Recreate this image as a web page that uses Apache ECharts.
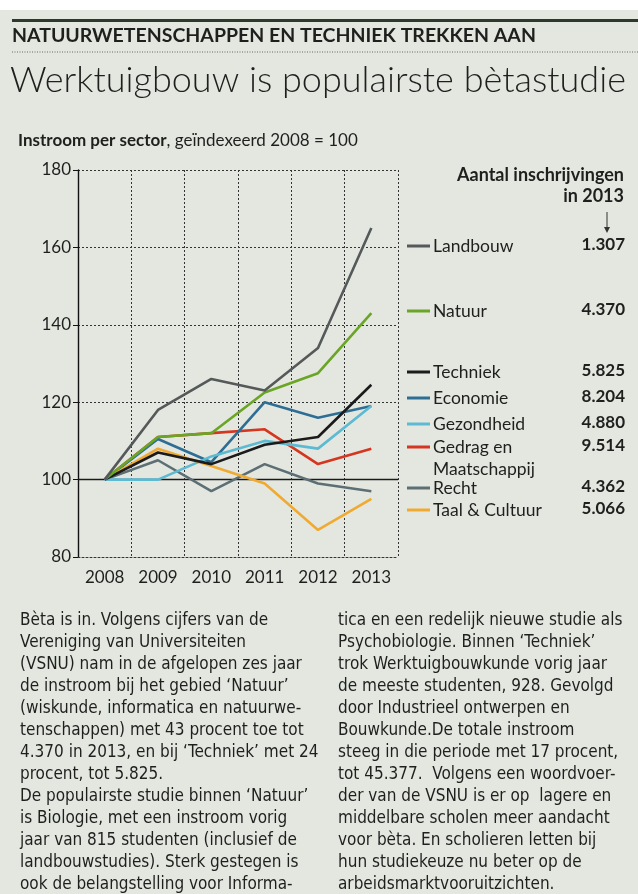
<!DOCTYPE html>
<html>
<head>
<meta charset="utf-8">
<script src="https://cdn.jsdelivr.net/npm/echarts@6/dist/echarts.min.js"></script>
<style>
  html, body { margin: 0; padding: 0; background: #fff; }
  #chart { width: 638px; height: 894px; }
</style>
</head>
<body>
<div id="chart"></div>
<script>
// chart values
const years = ['2008', '2009', '2010', '2011', '2012', '2013'];
const landbouw = [100, 118, 126, 123, 134, 165];
const natuur = [100, 111, 112, 122.5, 127.5, 143];
const techniek = [100, 107, 104, 109, 111, 124.5];
const economie = [100, 110.5, 104.5, 120, 116, 119];
const gezondheid = [100, 100, 106, 110, 108, 119];
const gedrag = [100, 111, 112, 113, 104, 108];
const recht = [100, 105, 97, 104, 99, 97];
const taal = [100, 108, 103.5, 99, 87, 95];

const sectorNames = ['Landbouw', 'Natuur', 'Techniek', 'Economie', 'Gezondheid', 'Gedrag en\nMaatschappij', 'Recht', 'Taal & Cultuur'];
const inschrijvingen2013 = ['1.307', '4.370', '5.825', '8.204', '4.880', '9.514', '4.362', '5.066'];
const yTicks = [80, 100, 120, 140, 160, 180];

const bodyLeft = [
  'Bèta is in. Volgens cijfers van de',
  'Vereniging van Universiteiten',
  '(VSNU) nam in de afgelopen zes jaar',
  'de instroom bij het gebied ‘Natuur’',
  '(wiskunde, informatica en natuurwe-',
  'tenschappen) met 43 procent toe tot',
  '4.370 in 2013, en bij ‘Techniek’ met 24',
  'procent, tot 5.825.',
  'De populairste studie binnen ‘Natuur’',
  'is Biologie, met een instroom vorig',
  'jaar van 815 studenten (inclusief de',
  'landbouwstudies). Sterk gestegen is',
  'ook de belangstelling voor Informa-'
];
const bodyRight = [
  'tica en een redelijk nieuwe studie als',
  'Psychobiologie. Binnen ‘Techniek’',
  'trok Werktuigbouwkunde vorig jaar',
  'de meeste studenten, 928. Gevolgd',
  'door Industrieel ontwerpen en',
  'Bouwkunde.De totale instroom',
  'steeg in die periode met 17 procent,',
  'tot 45.377.  Volgens een woordvoer-',
  'der van de VSNU is er op  lagere en',
  'middelbare scholen meer aandacht',
  'voor bèta. En scholieren letten bij',
  'hun studiekeuze nu beter op de',
  'arbeidsmarktvooruitzichten.'
];

// styling / layout
const colors = ['#55595a', '#6aa526', '#1b1b1b', '#2f6e94', '#5dbad3', '#d6361f', '#5d6f74', '#f0aa32'];
const legendY = [246, 311, 372, 398, 424, 447, 488, 510];
const paper = '#e3e7e0';
const ink = '#1e201e';
const sansFont = 'Lato, "Open Sans", sans-serif';
const bodyFont = '"Liberation Sans Narrow", "DejaVu Sans Condensed", sans-serif';

const chart = echarts.init(document.getElementById('chart'));

const seriesData = [landbouw, natuur, techniek, economie, gezondheid, gedrag, recht, taal];
// drawing order: bottom first
const drawOrder = [5, 3, 6, 4, 7, 2, 1, 0];

const series = drawOrder.map((i, k) => ({
  name: sectorNames[i],
  type: 'line',
  data: seriesData[i],
  symbol: 'none',
  z: 3 + k,
  lineStyle: { color: colors[i], width: 2.6 },
  markLine: k === 0 ? {
    silent: true,
    symbol: 'none',
    label: { show: false },
    lineStyle: { color: '#1a1a1a', width: 1.4, type: 'solid' },
    data: [{ yAxis: 100 }],
    z: 2
  } : undefined
}));

const graphic = [
  { type: 'rect', shape: { x: 0, y: 0, width: 638, height: 10 }, style: { fill: '#fff' }, z: 1 },
  { type: 'rect', shape: { x: 12, y: 19, width: 626, height: 3 }, style: { fill: '#2b3a2b' } },
  {
    type: 'text', x: 12, y: 36,
    style: { text: 'NATUURWETENSCHAPPEN EN TECHNIEK TREKKEN AAN', font: 'bold 19.5px ' + sansFont, fill: ink, textVerticalAlign: 'middle' }
  },
  { type: 'line', shape: { x1: 12, y1: 52, x2: 638, y2: 52 }, style: { stroke: '#666', lineWidth: 1, lineDash: [1, 1.5] } },
  {
    type: 'text', x: 10, y: 80,
    style: { text: 'Werktuigbouw is populairste bètastudie', font: '300 36px ' + sansFont, fill: ink, textVerticalAlign: 'middle' }
  },
  {
    type: 'text', x: 18, y: 141,
    style: {
      text: '{b|Instroom per sector}, geïndexeerd 2008 = 100',
      font: '17px ' + sansFont, fill: ink, textVerticalAlign: 'middle',
      rich: { b: { font: 'bold 17px ' + sansFont, fill: ink } }
    }
  },
  {
    type: 'text', x: 624, y: 175,
    style: { text: 'Aantal inschrijvingen', font: 'bold 18px ' + sansFont, fill: ink, textAlign: 'right', textVerticalAlign: 'middle' }
  },
  {
    type: 'text', x: 624, y: 196,
    style: { text: 'in 2013', font: 'bold 18px ' + sansFont, fill: ink, textAlign: 'right', textVerticalAlign: 'middle' }
  },
  { type: 'line', shape: { x1: 607, y1: 212, x2: 607, y2: 231 }, style: { stroke: '#333', lineWidth: 1 } },
  { type: 'polygon', shape: { points: [[604, 227], [610, 227], [607, 233]] }, style: { fill: '#333' } },
  {
    type: 'text', x: 20, y: 610,
    style: { text: bodyLeft.join('\n'), font: '17px ' + bodyFont, fill: ink, lineHeight: 22 }
  },
  {
    type: 'text', x: 338, y: 610,
    style: { text: bodyRight.join('\n'), font: '17px ' + bodyFont, fill: ink, lineHeight: 22 }
  }
];

sectorNames.forEach((name, i) => {
  graphic.push({ type: 'line', shape: { x1: 407, y1: legendY[i], x2: 430, y2: legendY[i] }, style: { stroke: colors[i], lineWidth: 3 } });
  graphic.push({
    type: 'text', x: 433, y: legendY[i] - 11,
    style: { text: name, font: '17.5px ' + sansFont, fill: ink, lineHeight: 22, textVerticalAlign: 'top' }
  });
  graphic.push({
    type: 'text', x: 625, y: legendY[i] - 1,
    style: { text: inschrijvingen2013[i], font: 'bold 17px ' + sansFont, fill: ink, textAlign: 'right', textVerticalAlign: 'middle' }
  });
});

chart.setOption({
  backgroundColor: paper,
  animation: false,
  grid: { left: 78, right: 240, top: 170, bottom: 337 },
  xAxis: {
    type: 'category',
    data: years,
    boundaryGap: true,
    axisLine: { show: true, lineStyle: { color: '#333', width: 1, type: [2, 2] } },
    axisTick: { show: false },
    axisLabel: { color: ink, fontSize: 17, fontFamily: sansFont, margin: 12 },
    splitLine: { show: true, lineStyle: { color: '#333', width: 1, type: [2, 2] } }
  },
  yAxis: {
    type: 'value',
    min: yTicks[0],
    max: yTicks[yTicks.length - 1],
    interval: 20,
    axisLine: { show: true, lineStyle: { color: '#111', width: 1.4 } },
    axisTick: { show: true, length: 5, lineStyle: { color: '#111' } },
    axisLabel: { color: ink, fontSize: 17, fontFamily: sansFont, margin: 7 },
    splitLine: { show: true, lineStyle: { color: '#333', width: 1, type: [2, 2] } }
  },
  series: series,
  graphic: graphic
});
</script>
</body>
</html>
